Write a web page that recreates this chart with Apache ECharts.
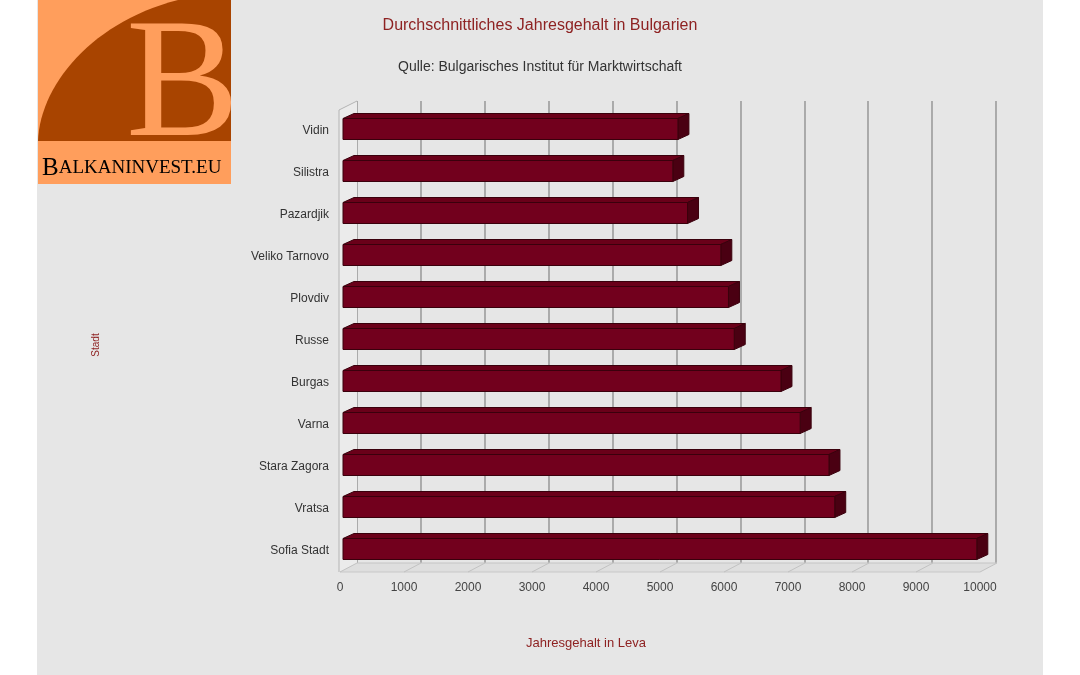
<!DOCTYPE html>
<html>
<head>
<meta charset="utf-8">
<script src="https://cdn.jsdelivr.net/npm/echarts@6/dist/echarts.min.js"></script>
<style>
  html, body { margin: 0; padding: 0; background: #fff; }
  #chart { width: 1080px; height: 675px; }
</style>
</head>
<body>
<div id="chart"></div>
<script>
// data
const cities = ["Vidin", "Silistra", "Pazardjik", "Veliko Tarnovo", "Plovdiv", "Russe",
  "Burgas", "Varna", "Stara Zagora", "Vratsa", "Sofia Stadt"];
const salaries = [5280, 5200, 5430, 5950, 6070, 6160, 6890, 7190, 7640, 7730, 9950];
const ticks = [0, 1000, 2000, 3000, 4000, 5000, 6000, 7000, 8000, 9000, 10000];

const titleText = "Durchschnittliches Jahresgehalt in Bulgarien";
const subText = "Qulle: Bulgarisches Institut für Marktwirtschaft";

// 3d look
const PLANE_DX = 17, PLANE_DY = -9;   // front plane -> back wall
const BAR_DX = 11, BAR_DY = -5;       // bar depth
const BAR_H = 21;

const FONT = "Liberation Sans";

// curved edge of the logo
function logoShape() {
  const pts = [[231, 141], [38, 141]];
  const p = [[38, 141], [40, 85], [92, 22], [178, 0]];
  for (let i = 1; i <= 30; i++) {
    const t = i / 30, u = 1 - t;
    pts.push([
      u * u * u * p[0][0] + 3 * u * u * t * p[1][0] + 3 * u * t * t * p[2][0] + t * t * t * p[3][0],
      u * u * u * p[0][1] + 3 * u * u * t * p[1][1] + 3 * u * t * t * p[2][1] + t * t * t * p[3][1]
    ]);
  }
  pts.push([231, 0]);
  return pts;
}

const chart = echarts.init(document.getElementById("chart"));

function renderFloor(params, api) {
  const cs = params.coordSys;
  const x = api.coord([api.value(0), 0])[0];
  const yb = cs.y + cs.height;
  const children = [];
  if (params.dataIndex === 0) {
    const xl = cs.x, xr = cs.x + cs.width;
    children.push({
      type: "polygon",
      shape: { points: [[xl, yb], [xr, yb], [xr + PLANE_DX, yb + PLANE_DY], [xl + PLANE_DX, yb + PLANE_DY]] },
      style: { fill: "#dedede" }
    });
    children.push({
      type: "polygon",
      shape: { points: [[xl - 1, yb], [xl - 1, cs.y], [xl + PLANE_DX, cs.y + PLANE_DY], [xl + PLANE_DX, yb + PLANE_DY]] },
      style: { fill: "#ebebeb" }
    });
    children.push({
      type: "line",
      shape: { x1: xl, y1: yb, x2: xr, y2: yb },
      style: { stroke: "#c8c8c8", lineWidth: 1 }
    });
    // left wall
    children.push({
      type: "polyline",
      shape: { points: [[xl - 1, yb], [xl - 1, cs.y], [xl + PLANE_DX, cs.y + PLANE_DY]] },
      style: { stroke: "#b4b4b4", lineWidth: 1, fill: null }
    });
    children.push({
      type: "line",
      shape: { x1: xl + PLANE_DX, y1: yb + PLANE_DY, x2: xr + PLANE_DX, y2: yb + PLANE_DY },
      style: { stroke: "#c4c4c4", lineWidth: 1 }
    });
  }
  children.push({
    type: "line",
    shape: { x1: x, y1: yb, x2: x + PLANE_DX, y2: yb + PLANE_DY },
    style: { stroke: "#c2c2c2", lineWidth: 1 }
  });
  return { type: "group", children: children };
}

function renderBar(params, api) {
  const idx = api.value(1);
  const p0 = api.coord([0, idx]);
  const p1 = api.coord([api.value(0), idx]);
  const x0 = p0[0] + 3, x1 = p1[0];
  const yc = p0[1] - 2;
  const yt = yc - BAR_H / 2, yb = yc + BAR_H / 2;
  const edge = "#3a000c";
  return {
    type: "group",
    children: [
      {
        type: "polygon",
        shape: { points: [[x0, yt], [x1, yt], [x1 + BAR_DX, yt + BAR_DY], [x0 + BAR_DX, yt + BAR_DY]] },
        style: { fill: "#6a0019", stroke: edge, lineWidth: 1 }
      },
      {
        type: "polygon",
        shape: { points: [[x1, yt], [x1 + BAR_DX, yt + BAR_DY], [x1 + BAR_DX, yb + BAR_DY], [x1, yb]] },
        style: { fill: "#4a0012", stroke: edge, lineWidth: 1 }
      },
      {
        type: "rect",
        shape: { x: x0, y: yt, width: x1 - x0, height: BAR_H },
        style: { fill: "#72001d", stroke: edge, lineWidth: 1 }
      }
    ]
  };
}

const option = {
  backgroundColor: "#ffffff",
  animation: false,
  title: [
    {
      text: titleText,
      left: "center",
      top: 13,
      textStyle: { color: "#8e2222", fontSize: 16, fontWeight: "normal", fontFamily: FONT }
    },
    {
      text: subText,
      left: "center",
      top: 55,
      textStyle: { color: "#333333", fontSize: 14, fontWeight: "normal", fontFamily: FONT }
    }
  ],
  graphic: [
    { type: "rect", z: -20, shape: { x: 37, y: 0, width: 1006, height: 675 }, style: { fill: "#e6e6e6" } },
    // logo
    { type: "rect", z: -10, shape: { x: 38, y: 0, width: 193, height: 184 }, style: { fill: "#ff9e5c" } },
    { type: "polygon", z: -9, shape: { points: logoShape() }, style: { fill: "#a84400" } },
    {
      type: "text", z: -8, x: 126, y: 175,
      style: { text: "B", fill: "#ff9e5c", font: "170px 'Liberation Serif'", textAlign: "left", textVerticalAlign: "bottom" }
    },
    { type: "rect", z: -7, shape: { x: 231, y: 0, width: 80, height: 160 }, style: { fill: "#e6e6e6" } },
    {
      type: "text", z: -6, x: 42, y: 181,
      style: {
        text: "{a|B}{b|ALKANINVEST.EU}",
        textVerticalAlign: "bottom",
        rich: {
          a: { fontSize: 25, fontFamily: "Liberation Serif", color: "#2a1608" },
          b: { fontSize: 19, fontFamily: "Liberation Serif", color: "#2a1608" }
        }
      }
    },
    // axis names
    {
      type: "text", x: 96, y: 345, rotation: Math.PI / 2,
      style: { text: "Stadt", fill: "#8e2222", font: "10px 'Liberation Sans'", textAlign: "center", textVerticalAlign: "middle" }
    },
    {
      type: "text", x: 586, y: 643,
      style: { text: "Jahresgehalt in Leva", fill: "#8e2222", font: "13px 'Liberation Sans'", textAlign: "center", textVerticalAlign: "middle" }
    }
  ],
  grid: [
    { left: 340, top: 110, width: 640, height: 462 },
    { left: 357, top: 101, width: 639, height: 462 }
  ],
  xAxis: [
    {
      gridIndex: 0, type: "value", min: 0, max: 10000, interval: 1000,
      axisLine: { show: false }, axisTick: { show: false }, splitLine: { show: false },
      axisLabel: {
        color: "#444", fontSize: 12, fontFamily: FONT, margin: 10,
        formatter: function (v) { return String(v); }
      }
    },
    {
      gridIndex: 1, type: "value", min: 0, max: 10000, interval: 1000,
      axisLine: { show: false }, axisTick: { show: false }, axisLabel: { show: false },
      splitLine: { show: true, lineStyle: { color: "#9c9c9c", width: 1.6 } }
    }
  ],
  yAxis: [
    {
      gridIndex: 0, type: "category", data: cities, inverse: true,
      axisLine: { show: false }, axisTick: { show: false }, splitLine: { show: false },
      axisLabel: { color: "#333", fontSize: 12, fontFamily: FONT, margin: 11 }
    },
    {
      gridIndex: 1, type: "category", data: cities, inverse: true,
      axisLine: { show: false }, axisTick: { show: false }, axisLabel: { show: false }, splitLine: { show: false }
    }
  ],
  series: [
    {
      type: "custom", name: "floor", xAxisIndex: 0, yAxisIndex: 0, z: 1, clip: false, silent: true,
      renderItem: renderFloor,
      data: ticks.map(function (t) { return [t, 0]; })
    },
    {
      type: "custom", name: "Jahresgehalt", xAxisIndex: 0, yAxisIndex: 0, z: 3, clip: false,
      renderItem: renderBar,
      encode: { x: 0, y: 1 },
      data: salaries.map(function (v, i) { return [v, i]; })
    }
  ]
};

chart.setOption(option);
window.addEventListener("resize", function () {
  chart.resize();
});
</script>
</body>
</html>
